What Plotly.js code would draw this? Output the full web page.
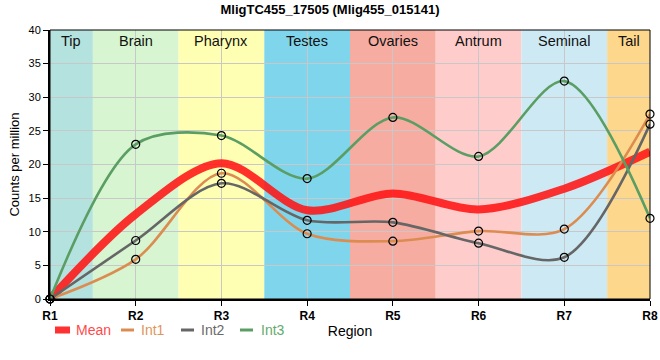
<!DOCTYPE html>
<html>
<head>
<meta charset="utf-8">
<script src="https://cdn.plot.ly/plotly-3.0.1.min.js"></script>
<style>html,body{margin:0;padding:0;background:#fff;}#chart{width:660px;height:360px;}</style>
</head>
<body>
<div id="chart"></div>
<script>
// Data
const regions = ['R1','R2','R3','R4','R5','R6','R7','R8'];
const regionNames = ['Tip','Brain','Pharynx','Testes','Ovaries','Antrum','Seminal','Tail'];
const regionColors = ['#b4e2de','#d6f5d0','#ffffb4','#7fd6ec','#f6aca0','#ffcccc','#cdeaf4','#fdd88c'];
const meanVals = [0, 12.6, 20.2, 13.2, 15.7, 13.3, 16.4, 21.9];
const int1Vals = [0, 5.9, 18.7, 9.7, 8.6, 10.1, 10.4, 27.5];
const int2Vals = [0, 8.7, 17.2, 11.7, 11.4, 8.3, 6.2, 26.0];
const int3Vals = [0, 23.0, 24.3, 17.9, 27.0, 21.2, 32.4, 12.0];

const xIdx = regions.map((_, i) => i);
const FONT = 'Liberation Sans, Arial, sans-serif';

const seriesDefs = [
  {name: 'Mean', y: meanVals, color: 'rgba(255,20,20,0.88)', width: 8, markers: false, textColor: '#ff4a4a'},
  {name: 'Int1', y: int1Vals, color: '#dc8c50', width: 2.6, markers: true, textColor: '#e0955c'},
  {name: 'Int2', y: int2Vals, color: '#666666', width: 2.6, markers: true, textColor: '#6a6a6a'},
  {name: 'Int3', y: int3Vals, color: '#5a9e64', width: 2.6, markers: true, textColor: '#62aa6e'}
];

const traces = seriesDefs.map(s => ({
  type: 'scatter',
  mode: s.markers ? 'lines+markers' : 'lines',
  x: xIdx,
  y: s.y,
  name: s.name,
  line: {color: s.color, width: s.width, shape: 'spline', smoothing: 0.9},
  marker: {symbol: 'circle-open', size: 8, color: '#000', line: {width: 1.2, color: '#000'}},
  cliponaxis: false,
  showlegend: false,
  hoverinfo: 'x+y'
}));

const shapes = [];
const annotations = [];
regionNames.forEach((nm, i) => {
  const x0 = Math.max(0, i - 0.5), x1 = Math.min(7, i + 0.5);
  shapes.push({type: 'rect', xref: 'x', yref: 'y', x0: x0, x1: x1, y0: 0, y1: 40,
    fillcolor: regionColors[i], line: {width: 0}, layer: 'below'});
  annotations.push({xref: 'x', yref: 'y', x: (x0 + x1) / 2, y: 40, yanchor: 'top', yshift: -1,
    text: nm, showarrow: false, font: {family: FONT, size: 14.5, color: '#111'}});
});
// frame (thin top/right)
shapes.push({type: 'rect', xref: 'paper', yref: 'paper', x0: 0, x1: 1, y0: 0, y1: 1,
  line: {color: '#000', width: 1}, layer: 'above'});

// custom legend
const W = 600, H = 269;
const px = v => (v - 50) / W;
const py = v => (299 - v) / H;
const legendY = 330;
shapes.push({type: 'rect', xref: 'paper', yref: 'paper', x0: px(55), x1: px(70), y0: py(333.5), y1: py(326.5),
  fillcolor: seriesDefs[0].color, line: {width: 0}});
[[121, 134], [181, 194], [240, 253]].forEach((p, k) => {
  shapes.push({type: 'line', xref: 'paper', yref: 'paper', x0: px(p[0]), x1: px(p[1]), y0: py(legendY), y1: py(legendY),
    line: {color: seriesDefs[k + 1].color, width: 3}});
});
[74, 139, 199, 259].forEach((tx, k) => {
  annotations.push({xref: 'paper', yref: 'paper', x: px(tx), y: py(legendY), xanchor: 'left', yanchor: 'middle',
    text: seriesDefs[k].name, showarrow: false, font: {family: FONT, size: 14, color: seriesDefs[k].textColor}});
});

const layout = {
  width: 660, height: 360,
  margin: {l: 50, r: 10, t: 30, b: 61},
  paper_bgcolor: '#fff', plot_bgcolor: '#fff',
  font: {family: FONT, size: 11, color: '#000'},
  title: {text: '<b>MligTC455_17505 (Mlig455_015141)</b>', font: {family: FONT, size: 13, color: '#000'},
    x: 0.5, xanchor: 'center', y: 0.975, yanchor: 'middle'},
  xaxis: {
    range: [0, 7], tickvals: xIdx, ticktext: regions.map(r => '<b>' + r + '</b>'),
    tickfont: {family: FONT, size: 12, color: '#000'},
    showgrid: true, gridcolor: '#c8c8c8', gridwidth: 1,
    showline: true, linecolor: '#000', linewidth: 2,
    ticks: 'outside', ticklen: 5, tickcolor: '#000', zeroline: false,
    title: {text: 'Region', font: {family: FONT, size: 14, color: '#000'}, standoff: 4}
  },
  yaxis: {
    range: [0, 40], dtick: 5, tick0: 0,
    tickfont: {family: FONT, size: 11, color: '#000'},
    showgrid: true, gridcolor: '#c8c8c8', gridwidth: 1,
    showline: true, linecolor: '#000', linewidth: 2,
    ticks: 'outside', ticklen: 5, tickcolor: '#000', zeroline: false,
    title: {text: 'Counts per million', font: {family: FONT, size: 13, color: '#000'}, standoff: 6}
  },
  shapes: shapes,
  annotations: annotations,
  showlegend: false
};

Plotly.newPlot('chart', traces, layout, {displayModeBar: false, staticPlot: true});
</script>
</body>
</html>
